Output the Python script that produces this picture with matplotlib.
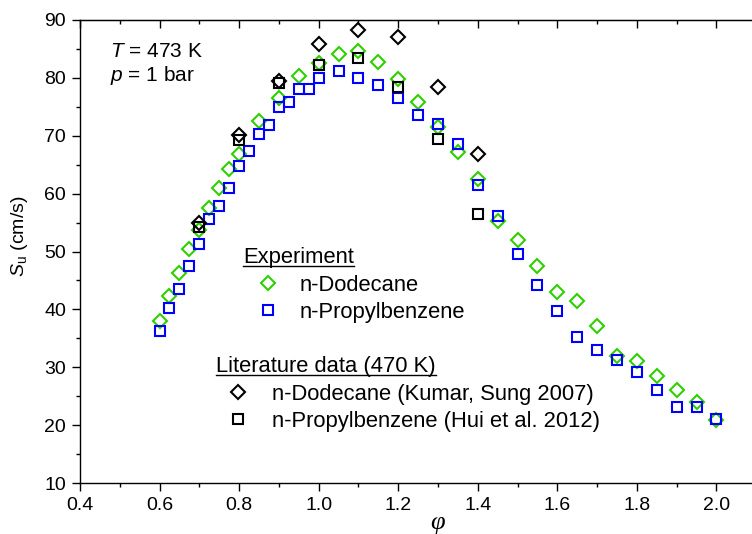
import matplotlib
matplotlib.use('Agg')
import matplotlib.pyplot as plt
from matplotlib.lines import Line2D
from matplotlib.ticker import MultipleLocator, FormatStrFormatter

plt.rcParams['font.family'] = 'Liberation Sans'
plt.rcParams['mathtext.fontset'] = 'custom'
plt.rcParams['mathtext.rm'] = 'Liberation Sans'
plt.rcParams['mathtext.it'] = 'Liberation Sans:italic'

# Experiment, n-Dodecane
phi_dod = [0.6, 0.625, 0.65, 0.675, 0.7, 0.725, 0.75, 0.775, 0.8, 0.85, 0.9, 0.95,
           1.0, 1.05, 1.1, 1.15, 1.2, 1.25, 1.3, 1.35, 1.4, 1.45, 1.5, 1.55, 1.6,
           1.65, 1.7, 1.75, 1.8, 1.85, 1.9, 1.95, 2.0]
su_dod = [38.0, 42.3, 46.2, 50.5, 53.8, 57.6, 61.0, 64.3, 66.8, 72.6, 76.5, 80.3,
          82.5, 84.1, 84.7, 82.7, 79.8, 75.8, 71.5, 67.2, 62.6, 55.3, 52.0, 47.5, 43.0,
          41.4, 37.1, 32.0, 31.1, 28.5, 26.0, 24.0, 20.8]

# Experiment, n-Propylbenzene
phi_pb = [0.6, 0.625, 0.65, 0.675, 0.7, 0.725, 0.75, 0.775, 0.8, 0.825, 0.85, 0.875,
          0.9, 0.925, 0.95, 0.975, 1.0, 1.05, 1.1, 1.15, 1.2, 1.25, 1.3, 1.35, 1.4,
          1.45, 1.5, 1.55, 1.6, 1.65, 1.7, 1.75, 1.8, 1.85, 1.9, 1.95, 2.0]
su_pb = [36.2, 40.2, 43.5, 47.5, 51.3, 55.6, 57.8, 61.0, 64.7, 67.4, 70.3, 71.9,
         75.0, 75.9, 78.0, 78.0, 79.9, 81.2, 80.0, 78.8, 76.5, 73.6, 72.0, 68.6, 61.5,
         56.1, 49.6, 44.2, 39.8, 35.2, 32.9, 31.2, 29.2, 26.1, 23.2, 23.2, 21.0]

# Literature, 470 K
phi_lit = [0.7, 0.8, 0.9, 1.0, 1.1, 1.2, 1.3, 1.4]
su_kumar = [55.0, 70.2, 79.5, 85.8, 88.3, 87.0, 78.5, 66.9]
su_hui = [54.3, 69.2, 79.1, 82.3, 83.5, 78.5, 69.5, 56.4]

# labelled x ticks (the axis runs on past 2.0, off the right edge)
xticks = [0.4, 0.6, 0.8, 1.0, 1.2, 1.4, 1.6, 1.8, 2.0]

green = '#2FD000'
blue = '#0000FF'
mk = dict(ls='none', ms=7.5, mew=1.5, mfc='none')
fs_leg = 15.8

W, H = 752, 534
fig = plt.figure(figsize=(W / 100, H / 100), dpi=100)
ax = fig.add_axes([80 / W, 51 / H, 716 / W, 463 / H])

l1, = ax.plot(phi_dod, su_dod, marker='D', mec=green, label='n-Dodecane', **mk)
l2, = ax.plot(phi_pb, su_pb, marker='s', mec=blue, label='n-Propylbenzene', **mk)
l3, = ax.plot(phi_lit, su_kumar, marker='D', mec='black',
              label='n-Dodecane (Kumar, Sung 2007)', **mk)
l4, = ax.plot(phi_lit, su_hui, marker='s', mec='black',
              label='n-Propylbenzene (Hui et al. 2012)', **mk)

ax.set_xlim(0.4, 2.2)
ax.set_ylim(10, 90)
ax.set_xticks(xticks)
ax.xaxis.set_minor_locator(MultipleLocator(0.1))
ax.xaxis.set_major_formatter(FormatStrFormatter('%.1f'))
ax.yaxis.set_major_locator(MultipleLocator(10))
ax.yaxis.set_minor_locator(MultipleLocator(5))
ax.tick_params(which='major', direction='out', length=6, width=1, labelsize=14, pad=4)
ax.tick_params(which='minor', direction='out', length=3, width=1)
for s in ax.spines.values():
    s.set_linewidth(1)

# top axis: ticks pointing down into the plot, no labels
top = ax.secondary_xaxis('top')
top.set_xticks(xticks)
top.xaxis.set_minor_locator(MultipleLocator(0.1))
top.tick_params(which='major', direction='in', length=6, width=1, labeltop=False)
top.tick_params(which='minor', direction='in', length=3, width=1)

ax.set_ylabel(r'$S_\mathrm{u}$ (cm/s)', fontsize=14)
ax.yaxis.set_label_coords(-0.070, 0.533)
ax.set_xlabel('φ', fontsize=19, family='Liberation Serif', style='italic', labelpad=-1)

ax.text(0.042, 0.921, r'$T$ = 473 K', transform=ax.transAxes, fontsize=15, va='baseline')
ax.text(0.042, 0.868, r'$p$ = 1 bar', transform=ax.transAxes, fontsize=15, va='baseline')

leg1 = ax.legend(handles=[l1, l2], title='Experiment', title_fontsize=fs_leg,
                 fontsize=fs_leg, loc='upper left',
                 bbox_to_anchor=(243 / W, 1 - 247 / H), bbox_transform=fig.transFigure,
                 frameon=False, alignment='left', borderpad=0, borderaxespad=0,
                 handlelength=2.28, handletextpad=0.32, labelspacing=0.3, numpoints=1)
ax.add_artist(leg1)
leg2 = ax.legend(handles=[l3, l4], title='Literature data (470 K)', title_fontsize=fs_leg,
                 fontsize=fs_leg, loc='upper left',
                 bbox_to_anchor=(216 / W, 1 - 356 / H), bbox_transform=fig.transFigure,
                 frameon=False, alignment='left', borderpad=0, borderaxespad=0,
                 handlelength=2.0, handletextpad=0.55, labelspacing=0.3, numpoints=1)

# underline the two legend titles
fig.canvas.draw()
inv = fig.transFigure.inverted()
for lg in (leg1, leg2):
    bb = lg.get_title().get_window_extent()
    (x0, y0), (x1, _) = inv.transform([(bb.x0, bb.y0 + 2), (bb.x1, bb.y0 + 2)])
    fig.add_artist(Line2D([x0, x1], [y0, y0], transform=fig.transFigure,
                          color='black', lw=1))

fig.savefig('out.png', dpi=100)
